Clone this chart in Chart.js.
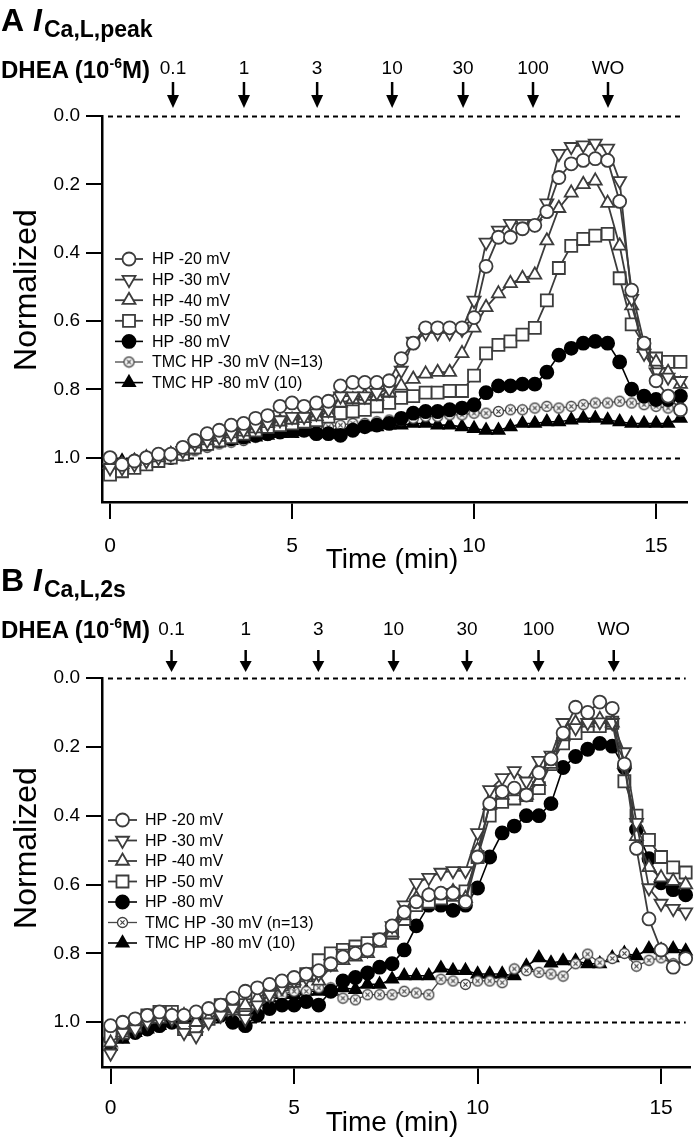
<!DOCTYPE html>
<html>
<head>
<meta charset="utf-8">
<script src="https://cdn.jsdelivr.net/npm/chart.js@4.4.1/dist/chart.umd.min.js"></script>
<style>
  html, body { margin: 0; padding: 0; background: #fff; }
  body { width: 700px; height: 1141px; position: relative; overflow: hidden;
         font-family: "Liberation Sans", Arial, Helvetica, sans-serif; }
  .t { position: absolute; white-space: nowrap; line-height: 1; color: #000; font-weight: bold; }
  .sup { position: relative; top: -10px; font-size: 14px; }
  #wrapA { position: absolute; left: 0; top: 0; width: 700px; height: 575px; }
  #wrapB { position: absolute; left: 0; top: 575px; width: 700px; height: 566px; }
</style>
</head>
<body>
<div id="wrapA"><canvas id="chartA" width="700" height="575"></canvas></div>
<div id="wrapB"><canvas id="chartB" width="700" height="566"></canvas></div>

<div class="t" style="left:1px;top:4px;font-size:32px">A</div>
<div class="t" style="left:33px;top:4px;font-size:32px;font-style:italic">I</div>
<div class="t" style="left:44px;top:18px;font-size:23px">Ca,L,peak</div>
<div class="t" style="left:1px;top:58px;font-size:24px">DHEA (10<span class="sup">-6</span>M)</div>

<div class="t" style="left:1px;top:564px;font-size:32px">B</div>
<div class="t" style="left:33px;top:564px;font-size:32px;font-style:italic">I</div>
<div class="t" style="left:44px;top:578px;font-size:23px">Ca,L,2s</div>
<div class="t" style="left:1px;top:618px;font-size:24px">DHEA (10<span class="sup">-6</span>M)</div>

<script>
// time of each sample (min), 20 s apart
let timeMin = [0, 0.33, 0.67, 1, 1.33, 1.67, 2, 2.33, 2.67, 3,
  3.33, 3.67, 4, 4.33, 4.67, 5, 5.33, 5.67, 6, 6.33,
  6.67, 7, 7.33, 7.67, 8, 8.33, 8.67, 9, 9.33, 9.67,
  10, 10.33, 10.67, 11, 11.33, 11.67, 12, 12.33, 12.67, 13,
  13.33, 13.67, 14, 14.33, 14.67, 15, 15.33, 15.67];

let xTicks = [0, 5, 10, 15];
let yTicks = [0, 0.2, 0.4, 0.6, 0.8, 1.0];
let refLevels = [0, 1.0];

let doseLabels = ['0.1', '1', '3', '10', '30', '100', 'WO'];
let doseTimesA = [1.73, 3.68, 5.69, 7.75, 9.7, 11.62, 13.68];
let doseTimesB = [1.66, 3.68, 5.66, 7.71, 9.71, 11.66, 13.71];

let labelsA = ['HP -20 mV', 'HP -30 mV', 'HP -40 mV', 'HP -50 mV', 'HP -80 mV', 'TMC HP -30 mV (N=13)', 'TMC HP -80 mV (10)'];
let labelsB = ['HP -20 mV', 'HP -30 mV', 'HP -40 mV', 'HP -50 mV', 'HP -80 mV', 'TMC HP -30 mV (n=13)', 'TMC HP -80 mV (10)'];

// panel A : I Ca,L,peak
let hp20A = [1.00, 1.02, 1.01, 1.00, 0.99, 0.99, 0.97, 0.95, 0.93, 0.92,
  0.905, 0.90, 0.885, 0.877, 0.85, 0.84, 0.85, 0.84, 0.835, 0.79,
  0.78, 0.78, 0.78, 0.775, 0.71, 0.665, 0.62, 0.62, 0.62, 0.62,
  0.59, 0.44, 0.355, 0.355, 0.33, 0.32, 0.28, 0.18, 0.14, 0.13,
  0.125, 0.13, 0.25, 0.51, 0.665, 0.775, 0.82, 0.86];
let hp30A = [1.03, 1.03, 1.02, 1.01, 1.00, 0.99, 0.98, 0.96, 0.95, 0.94,
  0.93, 0.92, 0.91, 0.90, 0.89, 0.88, 0.88, 0.87, 0.86, 0.82,
  0.82, 0.82, 0.81, 0.80, 0.745, 0.66, 0.635, 0.635, 0.635, 0.625,
  0.54, 0.37, 0.335, 0.315, 0.315, 0.315, 0.255, 0.11, 0.09, 0.085,
  0.08, 0.095, 0.19, 0.535, 0.695, 0.75, 0.765, 0.775];
let hp40A = [1.02, 1.02, 1.01, 1.00, 1.00, 0.99, 0.98, 0.96, 0.95, 0.94,
  0.93, 0.925, 0.915, 0.90, 0.895, 0.89, 0.885, 0.88, 0.87, 0.84,
  0.83, 0.82, 0.82, 0.81, 0.79, 0.77, 0.755, 0.75, 0.75, 0.695,
  0.62, 0.56, 0.52, 0.49, 0.475, 0.465, 0.365, 0.27, 0.225, 0.20,
  0.19, 0.255, 0.38, 0.555, 0.68, 0.72, 0.75, 0.785];
let hp50A = [1.05, 1.04, 1.03, 1.02, 1.01, 1.00, 0.99, 0.97, 0.96, 0.95,
  0.94, 0.93, 0.92, 0.91, 0.905, 0.90, 0.895, 0.89, 0.88, 0.87,
  0.865, 0.86, 0.85, 0.84, 0.825, 0.82, 0.81, 0.81, 0.805, 0.805,
  0.76, 0.695, 0.67, 0.66, 0.64, 0.62, 0.54, 0.445, 0.38, 0.36,
  0.35, 0.345, 0.475, 0.61, 0.67, 0.71, 0.72, 0.72];
let hp80A = [1.03, 1.02, 1.02, 1.01, 1.00, 1.00, 0.99, 0.97, 0.96, 0.95,
  0.945, 0.94, 0.935, 0.93, 0.925, 0.92, 0.92, 0.93, 0.93, 0.935,
  0.92, 0.91, 0.905, 0.90, 0.885, 0.87, 0.865, 0.865, 0.86, 0.855,
  0.845, 0.81, 0.79, 0.79, 0.785, 0.785, 0.75, 0.70, 0.68, 0.665,
  0.66, 0.665, 0.72, 0.80, 0.82, 0.83, 0.83, 0.82];
let tmc30A = [1.03, 1.02, 1.02, 1.01, 1.00, 1.00, 0.99, 0.98, 0.97, 0.96,
  0.955, 0.95, 0.94, 0.935, 0.93, 0.925, 0.92, 0.915, 0.91, 0.905,
  0.90, 0.90, 0.895, 0.89, 0.89, 0.885, 0.88, 0.88, 0.875, 0.875,
  0.87, 0.87, 0.865, 0.86, 0.86, 0.855, 0.85, 0.855, 0.85, 0.845,
  0.84, 0.84, 0.835, 0.84, 0.845, 0.85, 0.855, 0.855];
let tmc80A = [1.02, 1.01, 1.01, 1.00, 1.00, 0.99, 0.98, 0.97, 0.96, 0.955,
  0.95, 0.945, 0.94, 0.935, 0.93, 0.93, 0.925, 0.92, 0.92, 0.915,
  0.915, 0.91, 0.91, 0.905, 0.905, 0.90, 0.90, 0.905, 0.905, 0.91,
  0.915, 0.92, 0.92, 0.91, 0.90, 0.90, 0.895, 0.895, 0.89, 0.885,
  0.885, 0.89, 0.895, 0.90, 0.90, 0.90, 0.90, 0.885];

// panel B : I Ca,L,2s
let hp20B = [1.01, 1.00, 0.99, 0.98, 0.97, 0.98, 0.98, 0.97, 0.96, 0.95,
  0.93, 0.91, 0.90, 0.89, 0.88, 0.87, 0.86, 0.85, 0.83, 0.81,
  0.80, 0.79, 0.76, 0.72, 0.68, 0.65, 0.63, 0.625, 0.625, 0.65,
  0.52, 0.365, 0.33, 0.32, 0.34, 0.275, 0.235, 0.16, 0.085, 0.10,
  0.07, 0.088, 0.25, 0.495, 0.70, 0.79, 0.84, 0.815];
let hp30B = [1.09, 1.03, 1.02, 1.00, 0.99, 0.99, 1.03, 1.04, 1.00, 0.98,
  0.96, 0.99, 0.95, 0.92, 0.90, 0.88, 0.87, 0.86, 0.83, 0.80,
  0.79, 0.79, 0.755, 0.72, 0.66, 0.595, 0.58, 0.565, 0.56, 0.56,
  0.45, 0.325, 0.29, 0.27, 0.30, 0.24, 0.225, 0.13, 0.145, 0.13,
  0.128, 0.13, 0.215, 0.42, 0.61, 0.655, 0.67, 0.68];
let hp40B = [1.06, 1.03, 1.00, 0.99, 0.99, 0.98, 0.98, 1.00, 0.99, 0.97,
  0.96, 0.95, 0.93, 0.91, 0.89, 0.88, 0.87, 0.88, 0.84, 0.82,
  0.81, 0.80, 0.77, 0.74, 0.69, 0.64, 0.63, 0.63, 0.62, 0.64,
  0.50, 0.37, 0.34, 0.33, 0.34, 0.30, 0.25, 0.17, 0.13, 0.13,
  0.12, 0.13, 0.25, 0.46, 0.55, 0.58, 0.59, 0.60];
let hp50B = [1.04, 1.03, 1.01, 0.98, 0.97, 0.97, 1.02, 1.02, 0.99, 0.95,
  0.96, 0.95, 0.92, 0.91, 0.89, 0.88, 0.86, 0.82, 0.80, 0.79,
  0.78, 0.77, 0.76, 0.74, 0.70, 0.66, 0.65, 0.64, 0.63, 0.62,
  0.52, 0.40, 0.36, 0.35, 0.34, 0.32, 0.25, 0.19, 0.16, 0.14,
  0.14, 0.13, 0.30, 0.40, 0.47, 0.52, 0.55, 0.565];
let hp80B = [1.05, 1.04, 1.03, 1.02, 1.01, 1.00, 1.00, 1.01, 0.99, 0.98,
  1.00, 1.01, 0.98, 0.96, 0.95, 0.95, 0.94, 0.95, 0.91, 0.88,
  0.87, 0.857, 0.84, 0.83, 0.79, 0.72, 0.66, 0.66, 0.675, 0.66,
  0.61, 0.52, 0.45, 0.43, 0.40, 0.40, 0.365, 0.26, 0.228, 0.207,
  0.19, 0.198, 0.26, 0.44, 0.525, 0.595, 0.615, 0.63];
let tmc30B = [1.02, 1.01, 1.00, 0.99, 0.99, 0.98, 0.98, 0.97, 0.97, 0.96,
  0.96, 0.95, 0.94, 0.93, 0.92, 0.91, 0.91, 0.90, 0.90, 0.93,
  0.935, 0.92, 0.92, 0.92, 0.91, 0.915, 0.92, 0.875, 0.88, 0.89,
  0.88, 0.88, 0.885, 0.845, 0.85, 0.855, 0.86, 0.866, 0.83, 0.802,
  0.827, 0.815, 0.80, 0.837, 0.82, 0.813, 0.83, 0.817];
let tmc80B = [1.07, 1.05, 1.03, 1.02, 1.01, 1.00, 1.00, 0.99, 0.98, 0.97,
  0.96, 0.95, 0.94, 0.93, 0.92, 0.92, 0.91, 0.91, 0.91, 0.90,
  0.905, 0.89, 0.89, 0.875, 0.865, 0.865, 0.865, 0.843, 0.85, 0.85,
  0.86, 0.86, 0.86, 0.865, 0.837, 0.813, 0.828, 0.822, 0.822, 0.83,
  0.83, 0.813, 0.80, 0.807, 0.787, 0.79, 0.787, 0.793];

let fontFamily = '"Liberation Sans", Arial, Helvetica, sans-serif';
let gray = '#3c3c3c';

// small circle with an x inside, used for the TMC -30 mV trace
function crossedCircle() {
    let c = document.createElement('canvas');
    c.width = 13; c.height = 13;
    let g = c.getContext('2d');
    g.strokeStyle = '#404040';
    g.lineWidth = 1.3;
    g.fillStyle = '#fff';
    g.beginPath(); g.arc(6.5, 6.5, 5, 0, Math.PI * 2); g.fill(); g.stroke();
    g.lineWidth = 1.1;
    g.beginPath();
    g.moveTo(4.4, 4.4); g.lineTo(8.6, 8.6);
    g.moveTo(8.6, 4.4); g.lineTo(4.4, 8.6);
    g.stroke();
    return c;
}
let tmcMarker = crossedCircle();

let seriesStyle = [
    { pointStyle: 'circle', rotation: 0, radius: 6.5, border: gray, fill: '#fff', line: gray, lineWidth: 1.8 },
    { pointStyle: 'triangle', rotation: 180, radius: 7.5, border: gray, fill: '#fff', line: gray, lineWidth: 1.8 },
    { pointStyle: 'triangle', rotation: 0, radius: 7.5, border: gray, fill: '#fff', line: gray, lineWidth: 1.8 },
    { pointStyle: 'rect', rotation: 0, radius: 8.5, border: gray, fill: '#fff', line: gray, lineWidth: 1.8 },
    { pointStyle: 'circle', rotation: 0, radius: 6.5, border: '#000', fill: '#000', line: '#000', lineWidth: 1.6 },
    { pointStyle: tmcMarker, rotation: 0, radius: 5, border: '#404040', fill: '#fff', line: '#484848', lineWidth: 1.3 },
    { pointStyle: 'triangle', rotation: 0, radius: 7, border: '#000', fill: '#000', line: '#000', lineWidth: 1.6 }
];

function makeDatasets(labels, seriesList) {
    return seriesList.map(function (vals, i) {
        let s = seriesStyle[i];
        return {
            label: labels[i],
            data: timeMin.map(function (t, k) { return { x: t, y: vals[k] }; }),
            borderColor: s.line,
            borderWidth: s.lineWidth,
            pointStyle: s.pointStyle,
            rotation: s.rotation,
            pointRadius: s.radius,
            pointBorderColor: s.border,
            pointBackgroundColor: s.fill,
            pointBorderWidth: 1.8,
            tension: 0,
            clip: false
        };
    });
}

// dashed reference lines at 0 and 1
let refLinesPlugin = {
    id: 'refLines',
    beforeDatasetsDraw: function (chart) {
        let ctx = chart.ctx, a = chart.chartArea, y = chart.scales.y;
        ctx.save();
        ctx.strokeStyle = '#000';
        ctx.lineWidth = 2;
        ctx.setLineDash([5, 4]);
        refLevels.forEach(function (v) {
            let py = Math.round(y.getPixelForValue(v)) + 0.5;
            ctx.beginPath();
            ctx.moveTo(a.left + 6, py);
            ctx.lineTo(a.right - 4, py);
            ctx.stroke();
        });
        ctx.restore();
    }
};

// drug application arrows above the plot
let doseArrowsPlugin = {
    id: 'doseArrows',
    afterDraw: function (chart, args, opts) {
        let ctx = chart.ctx, x = chart.scales.x;
        ctx.save();
        ctx.fillStyle = '#000';
        ctx.strokeStyle = '#000';
        ctx.font = '19px ' + fontFamily;
        ctx.textAlign = 'center';
        ctx.textBaseline = 'middle';
        opts.times.forEach(function (t, i) {
            let px = x.getPixelForValue(t);
            ctx.fillText(doseLabels[i], px, opts.labelY);
            ctx.lineWidth = 2.5;
            ctx.beginPath();
            ctx.moveTo(px, opts.shaftTop);
            ctx.lineTo(px, opts.headTop + 2);
            ctx.stroke();
            ctx.beginPath();
            ctx.moveTo(px - 6, opts.headTop);
            ctx.lineTo(px + 6, opts.headTop);
            ctx.lineTo(px, opts.tipY);
            ctx.closePath();
            ctx.fill();
        });
        ctx.restore();
    }
};

// key with line + marker samples
let seriesKeyPlugin = {
    id: 'seriesKey',
    afterDatasetsDraw: function (chart, args, opts) {
        let ctx = chart.ctx;
        ctx.save();
        chart.data.datasets.forEach(function (ds, i) {
            let yy = opts.y0 + i * opts.step;
            ctx.strokeStyle = ds.borderColor;
            ctx.lineWidth = ds.borderWidth;
            ctx.setLineDash([]);
            ctx.beginPath();
            ctx.moveTo(opts.x0, yy);
            ctx.lineTo(opts.x1, yy);
            ctx.stroke();
            ctx.fillStyle = ds.pointBackgroundColor;
            ctx.strokeStyle = ds.pointBorderColor;
            ctx.lineWidth = ds.pointBorderWidth;
            Chart.helpers.drawPoint(ctx, {
                pointStyle: ds.pointStyle,
                rotation: ds.rotation,
                radius: ds.pointRadius,
                borderWidth: ds.pointBorderWidth
            }, (opts.x0 + opts.x1) / 2, yy);
            ctx.fillStyle = '#000';
            ctx.font = '16px ' + fontFamily;
            ctx.textAlign = 'left';
            ctx.textBaseline = 'middle';
            ctx.fillText(ds.label, opts.textX, yy + 1);
        });
        ctx.restore();
    }
};

let axisTitlesPlugin = {
    id: 'axisTitles',
    afterDraw: function (chart, args, opts) {
        let ctx = chart.ctx;
        ctx.save();
        ctx.fillStyle = '#000';
        ctx.textAlign = 'center';
        ctx.textBaseline = 'middle';
        ctx.font = '28px ' + fontFamily;
        ctx.fillText('Time (min)', opts.timeX, opts.timeY);
        ctx.font = '32px ' + fontFamily;
        ctx.translate(opts.normX, opts.normY);
        ctx.rotate(-Math.PI / 2);
        ctx.fillText('Normalized', 0, 0);
        ctx.restore();
    }
};

function buildChart(id, labels, seriesList, cfg) {
    return new Chart(document.getElementById(id), {
        type: 'line',
        data: { datasets: makeDatasets(labels, seriesList) },
        options: {
            responsive: false,
            animation: false,
            layout: { padding: { top: cfg.padTop, right: cfg.padRight, left: 0, bottom: 0 } },
            plugins: {
                legend: { display: false },
                tooltip: { enabled: false },
                doseArrows: cfg.arrows,
                seriesKey: cfg.key,
                axisTitles: cfg.titles
            },
            scales: {
                x: {
                    type: 'linear',
                    min: cfg.xMin,
                    max: cfg.xMax,
                    afterBuildTicks: function (s) { s.ticks = xTicks.map(function (v) { return { value: v }; }); },
                    afterFit: function (s) { s.height = cfg.xAxisH; },
                    border: { display: true, color: '#000', width: 2.5 },
                    grid: { display: true, drawOnChartArea: false, drawTicks: true, tickLength: 17, color: '#000', lineWidth: 2 },
                    ticks: { color: '#000', font: { family: fontFamily, size: 21 }, padding: cfg.xLabelPad, maxRotation: 0,
                             callback: function (v) { return String(v); } }
                },
                y: {
                    type: 'linear',
                    reverse: true,
                    min: 0,
                    max: 1.13,
                    afterBuildTicks: function (s) { s.ticks = yTicks.map(function (v) { return { value: v }; }); },
                    afterFit: function (s) { s.width = 102; },
                    border: { display: true, color: '#000', width: 2.5 },
                    grid: { display: true, drawOnChartArea: false, drawTicks: true, tickLength: 16, color: '#000', lineWidth: 2 },
                    ticks: { color: '#000', font: { family: fontFamily, size: 19 }, padding: 6,
                             callback: function (v) { return Number(v).toFixed(1); } }
                }
            }
        },
        plugins: [refLinesPlugin, doseArrowsPlugin, seriesKeyPlugin, axisTitlesPlugin]
    });
}

let chartA = buildChart('chartA', labelsA,
    [hp20A, hp30A, hp40A, hp50A, hp80A, tmc30A, tmc80A], {
        padTop: 116, padRight: 13, xMin: -0.22, xMax: 15.85, xAxisH: 73, xLabelPad: 15,
        arrows: { times: doseTimesA, labelY: 69, shaftTop: 82, headTop: 95, tipY: 108 },
        key: { y0: 259, step: 20.6, x0: 115, x1: 143, textX: 152 },
        titles: { timeX: 392, timeY: 560, normX: 27, normY: 290 }
    });

let chartB = buildChart('chartB', labelsB,
    [hp20B, hp30B, hp40B, hp50B, hp80B, tmc30B, tmc80B], {
        padTop: 103, padRight: 5, xMin: -0.235, xMax: 15.78, xAxisH: 74, xLabelPad: 12,
        arrows: { times: doseTimesB, labelY: 55, shaftTop: 75, headTop: 86, tipY: 97 },
        key: { y0: 245, step: 20.5, x0: 108, x1: 137, textX: 145 },
        titles: { timeX: 392, timeY: 548, normX: 27, normY: 273 }
    });
</script>
</body>
</html>
